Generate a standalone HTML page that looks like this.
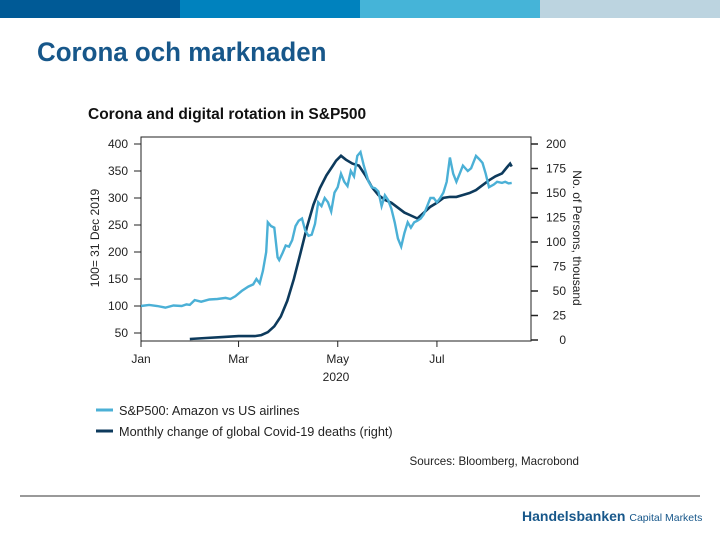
<!DOCTYPE html>
<html><head><meta charset="utf-8"><style>
body{margin:0;width:720px;height:540px;background:#fff;overflow:hidden;font-family:"Liberation Sans",sans-serif;position:relative}
.a{position:absolute}
</style></head><body>
<div class="a" style="left:0;top:0;width:180px;height:18px;background:#005a96"></div>
<div class="a" style="left:180px;top:0;width:180px;height:18px;background:#0082be"></div>
<div class="a" style="left:360px;top:0;width:180px;height:18px;background:#45b4d8"></div>
<div class="a" style="left:540px;top:0;width:180px;height:18px;background:#bcd4e0"></div>
<div class="a" style="left:37px;top:37px;font-size:27px;font-weight:bold;color:#17578a;transform:scaleX(0.96);transform-origin:left">Corona och marknaden</div>
<svg class="a" style="left:0;top:0" width="720" height="540" id="svg">
<text x="88" y="119" font-size="15.5" font-weight="bold" fill="#111">Corona and digital rotation in S&amp;P500</text>
<rect x="141" y="137" width="390" height="204" fill="none" stroke="#222" stroke-width="1"/>
<g id="axes" font-size="12" fill="#222"></g>
<text transform="translate(99,238) rotate(-90)" text-anchor="middle" font-size="12" fill="#222">100= 31 Dec 2019</text>
<text transform="translate(573,238) rotate(90)" text-anchor="middle" font-size="12" fill="#222">No. of Persons, thousand</text>
<text x="336" y="381" text-anchor="middle" font-size="12" fill="#222">2020</text>
<path id="dark" fill="none" stroke="#0d3a5c" stroke-width="2.6"/>
<path id="light" fill="none" stroke="#4bb0d6" stroke-width="2.4"/>
<line x1="96" y1="410" x2="113" y2="410" stroke="#4bb0d6" stroke-width="3"/>
<text x="119" y="415" font-size="12.7" fill="#222">S&amp;P500: Amazon vs US airlines</text>
<line x1="96" y1="431" x2="113" y2="431" stroke="#0d3a5c" stroke-width="3"/>
<text x="119" y="436" font-size="12.7" fill="#222">Monthly change of global Covid-19 deaths (right)</text>
<text x="579" y="465" text-anchor="end" font-size="11.6" fill="#222">Sources: Bloomberg, Macrobond</text>
<line x1="20" y1="496" x2="700" y2="496" stroke="#333" stroke-width="1"/>
<text x="522" y="521" font-size="14" font-weight="bold" fill="#17578a">Handelsbanken <tspan font-size="10.5" font-weight="normal">Capital Markets</tspan></text>
</svg>
<script>
const leftTicks=[50,100,150,200,250,300,350,400];
const rightTicks=[0,25,50,75,100,125,150,175,200];
const monthLabels=["Jan","Mar","May","Jul"];
const monthDays=[0,60,121,182];
const lightDays=[0,5,10,15,20,25,28,30,33,37,42,47,52,55,58,62,66,69,71,73,75,77,78,80,82,84,85,87,89,91,93,95,97,99,101,103,105,107,109,111,113,115,117,119,121,123,125,127,129,131,133,135,137,139,140,142,144,146,148,150,152,154,156,158,160,162,164,166,168,170,172,174,176,178,180,182,184,186,188,190,192,194,196,198,201,203,206,208,210,212,214,217,219,222,224,226,228];
const lightVals=[100,102,100,97,101,100,103,102,111,108,112,113,115,113,118,128,136,140,150,142,165,200,255,248,245,190,185,198,212,210,222,248,258,262,240,230,232,252,292,285,300,292,275,310,320,345,330,322,350,340,378,385,360,340,330,320,318,312,285,305,296,280,255,225,210,235,255,245,255,258,262,270,285,300,300,292,300,310,330,375,345,330,345,360,350,355,378,372,365,345,320,325,330,328,330,327,328];
const darkDays=[30,40,50,60,66,70,74,78,82,86,90,94,98,102,106,110,114,118,120,123,126,130,134,138,142,146,150,154,158,162,166,170,174,178,182,186,190,194,198,202,206,210,214,218,222,225,227,228];
const darkVals=[1,2,3,4,4,4,5,8,14,24,40,62,88,115,138,155,168,178,183,188,184,180,178,168,156,148,143,140,135,130,127,124,130,136,140,145,146,146,148,150,153,158,163,167,170,176,180,177];
const X=d=>141+d*1.626, YL=v=>333-(v-50)*27/50, YR=v=>340-v*0.98;
const ns="http://www.w3.org/2000/svg",g=document.getElementById('axes');
function mk(t,a,txt){const e=document.createElementNS(ns,t);for(const k in a)e.setAttribute(k,a[k]);if(txt!==undefined)e.textContent=txt;g.appendChild(e);return e;}
leftTicks.forEach(v=>{const y=YL(v);
const l=mk('line',{x1:134,x2:141,y1:y,y2:y,stroke:'#222'});


const t=mk('text',{x:128,y:y+4,'text-anchor':'end'},v);

});
rightTicks.forEach(v=>{const y=YR(v);
const l=mk('line',{x1:531,x2:538,y1:y,y2:y,stroke:'#222','stroke-width':1.5});


const t=mk('text',{x:566,y:y+4,'text-anchor':'end'},v);

});
monthDays.forEach((d,i)=>{const x=X(d);
const l=mk('line',{x1:x,x2:x,y1:341,y2:347,stroke:'#222'});


const t=mk('text',{x:x,y:363,'text-anchor':'middle'},monthLabels[i]);

});
document.getElementById('light').setAttribute('d',lightDays.map((d,i)=>(i?'L':'M')+X(d).toFixed(1)+','+YL(lightVals[i]).toFixed(1)).join(''));
document.getElementById('dark').setAttribute('d',darkDays.map((d,i)=>(i?'L':'M')+X(d).toFixed(1)+','+YR(darkVals[i]).toFixed(1)).join(''));
</script>
</body></html>
